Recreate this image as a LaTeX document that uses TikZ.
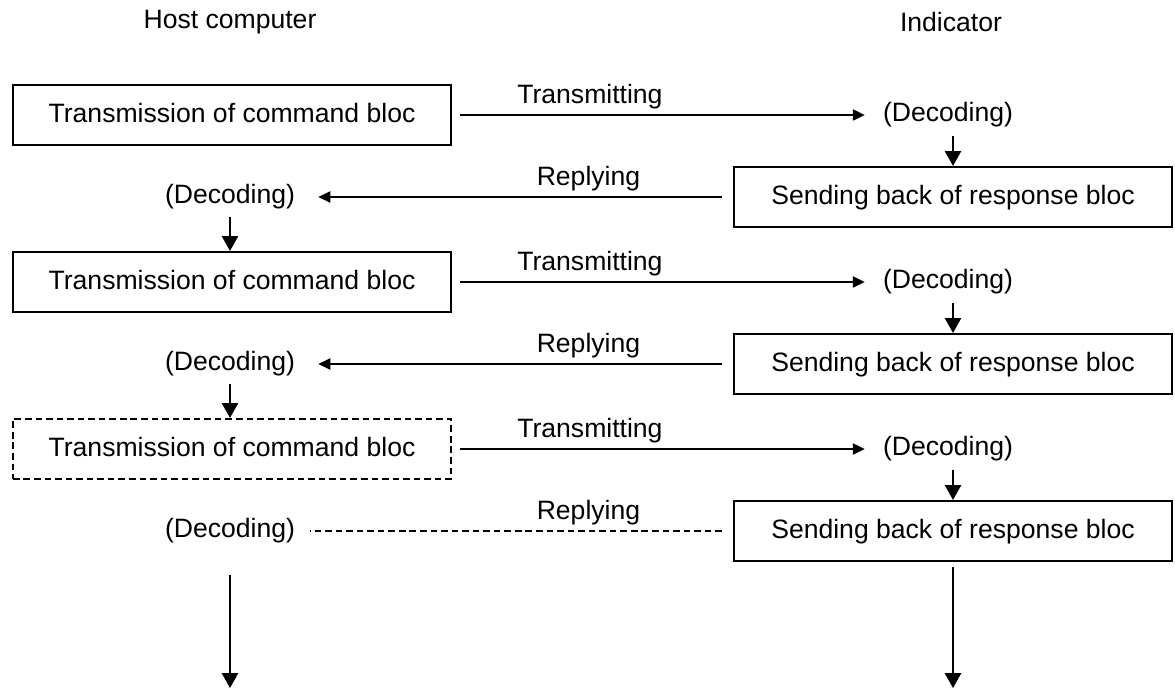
\documentclass[tikz,border=0pt]{standalone}
\usepackage{fontspec}
\setmainfont{Liberation Sans}
\usetikzlibrary{arrows.meta}

\begin{document}
\begin{tikzpicture}[x=0.025cm,y=-0.025cm,
  font=\fontsize{18.9}{22}\selectfont,
  blocbox/.style={draw,line width=1.5pt,minimum width=10.95cm,minimum height=1.5cm,
    inner sep=0pt,text height=1.35em,text depth=0.25em},
  decod/.style={inner sep=0pt},
  msg/.style={line width=1.1pt,-{Triangle[length=8.5pt,width=8pt]}},
  step arrow/.style={line width=1.1pt,-{Triangle[length=10.5pt,width=11.5pt]}},
  lbl/.style={above=3.5pt,inner sep=0pt}]
\useasboundingbox (0,0) rectangle (1175,690);
\node (host) at (230,22) {Host computer};
\node (ind) at (951,22) {Indicator};
\node[blocbox] (cmd1) at (232,115) {Transmission of command bloc};
\node[decod] (decR1) at (948,115) {(Decoding)};
\node[blocbox] (res1) at (953,197) {Sending back of response bloc};
\node[decod] (decL1) at (230,197) {(Decoding)};
\node[blocbox] (cmd2) at (232,282) {Transmission of command bloc};
\node[decod] (decR2) at (948,282) {(Decoding)};
\node[blocbox] (res2) at (953,364) {Sending back of response bloc};
\node[decod] (decL2) at (230,364) {(Decoding)};
\node[blocbox,dashed,dash pattern=on 4.7pt off 2.8pt] (cmd3) at (232,449) {Transmission of command bloc};
\node[decod] (decR3) at (948,449) {(Decoding)};
\node[blocbox] (res3) at (953,531) {Sending back of response bloc};
\node[decod] (decL3) at (230,531) {(Decoding)};
\coordinate (endL) at (230,688);
\coordinate (endR) at (953,688);
\draw[msg,shorten <=5.7pt,shorten >=12.8pt] (cmd1) -- node[lbl,pos=0.32]{Transmitting} (decR1);
\draw[msg,shorten <=5.7pt,shorten >=12.8pt] (cmd2) -- node[lbl,pos=0.32]{Transmitting} (decR2);
\draw[msg,shorten <=5.7pt,shorten >=12.8pt] (cmd3) -- node[lbl,pos=0.32]{Transmitting} (decR3);
\draw[msg,shorten <=7.8pt,shorten >=16.4pt] (res1) -- node[lbl,pos=0.33]{Replying} (decL1);
\draw[msg,shorten <=7.8pt,shorten >=16.4pt] (res2) -- node[lbl,pos=0.33]{Replying} (decL2);
\draw[line width=1.1pt,dash pattern=on 4.7pt off 2.8pt,shorten <=7.8pt,shorten >=10.7pt] (res3) -- node[lbl,pos=0.33]{Replying} (decL3);
\draw[step arrow,shorten <=5.7pt] (decR1.south -| res1.north) -- (res1.north);
\draw[step arrow,shorten <=5.7pt] (decR2.south -| res2.north) -- (res2.north);
\draw[step arrow,shorten <=5.7pt] (decR3.south -| res3.north) -- (res3.north);
\draw[step arrow,shorten <=5pt] (decL1.south) -- (decL1.south |- cmd2.north);
\draw[step arrow,shorten <=5pt] (decL2.south) -- (decL2.south |- cmd3.north);
\draw[step arrow,shorten <=22pt] (decL3) -- (endL);
\draw[step arrow,shorten <=3.5pt] (res3) -- (endR);
\end{tikzpicture}
\end{document}
